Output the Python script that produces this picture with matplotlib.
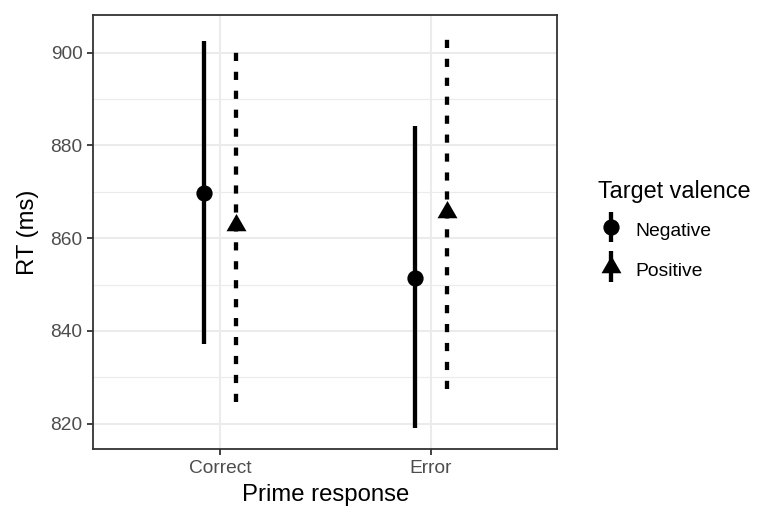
import numpy as np
import matplotlib
matplotlib.use("Agg")
import matplotlib.pyplot as plt
from matplotlib.container import ErrorbarContainer
from matplotlib.legend_handler import HandlerErrorbar

plt.rcParams['font.family'] = ['Liberation Sans', 'DejaVu Sans']

# data
categories = ["Correct", "Error"]
groups = ["Negative", "Positive"]
rt_mean = {"Negative": [869.8, 851.5], "Positive": [862.8, 865.7]}
rt_low = {"Negative": [837.1, 819.0], "Positive": [824.7, 827.4]}
rt_high = {"Negative": [902.4, 884.2], "Positive": [900.8, 903.6]}
y_ticks = [820, 840, 860, 880, 900]

tri = [(0, 1.0), (-0.866, -0.5), (0.866, -0.5)]
styles = {
    "Negative": dict(marker="o", ms=11.7, offset=-0.076, dashed=False),
    "Positive": dict(marker=tri, ms=16.6, offset=0.075, dashed=True),
}
bar_lw = 3.1


class SolidErrorbar(HandlerErrorbar):
    # legend keys are drawn with solid lines, like ggplot does
    def create_artists(self, *args, **kwargs):
        arts = super().create_artists(*args, **kwargs)
        for a in arts:
            if hasattr(a, "set_linestyle") and not hasattr(a, "get_marker"):
                a.set_linestyle("solid")
                a.set_linewidth(bar_lw)
                a.set_capstyle("butt")
        return arts


fig = plt.figure(figsize=(7.59, 5.07), dpi=100)
ax = fig.add_axes([93.3 / 759, 1 - 449.3 / 507, 464 / 759, 434.3 / 507])

x = np.arange(1, len(categories) + 1)
for g in groups:
    st = styles[g]
    mean = np.array(rt_mean[g])
    lo = mean - np.array(rt_low[g])
    hi = np.array(rt_high[g]) - mean
    eb = ax.errorbar(x + st["offset"], mean, yerr=[lo, hi], linestyle="none",
                     marker=st["marker"], ms=st["ms"], mew=0, color="black",
                     ecolor="black", elinewidth=bar_lw, capsize=0, label=g, zorder=3)
    eb.lines[2][0].set_capstyle("butt")
    if st["dashed"]:
        eb.lines[2][0].set_linestyle((0, (1.9, 2.5)))
        eb.lines[2][0].set_linewidth(bar_lw)

ax.set_xlim(0.4, 2.6)
ax.set_ylim(814.5, 908.1)
ax.set_xticks(x)
ax.set_xticklabels(categories)
ax.set_yticks(y_ticks)
ax.set_yticks([830, 850, 870, 890], minor=True)
ax.grid(True, which="major", color="#EBEBEB", linewidth=1.5)
ax.grid(True, which="minor", axis="y", color="#EBEBEB", linewidth=0.8)
ax.set_axisbelow(True)
ax.tick_params(axis="both", which="major", length=4.3, width=1.3, color="#333333",
               labelcolor="#4D4D4D", labelsize=13.8, pad=3.5)
ax.tick_params(axis="y", which="minor", length=0)
for s in ax.spines.values():
    s.set_color("#333333")
    s.set_linewidth(1.3)

ax.set_xlabel("Prime response", fontsize=17.2, labelpad=5)
ax.set_ylabel("RT (ms)", fontsize=17.2, labelpad=8)

handles, labels = ax.get_legend_handles_labels()
leg = fig.legend(handles, labels, title="Target valence", loc="upper left",
                 bbox_to_anchor=(598 / 759, 1 - 180 / 507), frameon=False,
                 fontsize=13.9, title_fontsize=16.8, alignment="left",
                 handlelength=1.3, handleheight=1.6, handletextpad=0.65,
                 labelspacing=0.76, borderpad=0, borderaxespad=0,
                 handler_map={ErrorbarContainer: SolidErrorbar(yerr_size=0.8)})

fig.savefig("out.png", dpi=100)
